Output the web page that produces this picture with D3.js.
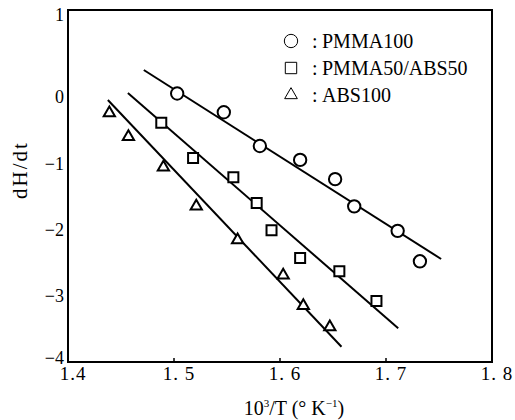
<!DOCTYPE html>
<html>
<head>
<meta charset="utf-8">
<script src="https://cdn.jsdelivr.net/npm/d3@7"></script>
<style>
  body { margin: 0; background: #fff; }
  text { font-family: "Liberation Serif", "DejaVu Serif", serif; fill: #000; }
</style>
</head>
<body>
<script>
// values
const pmmaX = [1.503, 1.547, 1.581, 1.619, 1.652, 1.670, 1.711, 1.732];
const pmmaY = [0.04, -0.23, -0.74, -0.95, -1.24, -1.65, -2.02, -2.48];
const blendX = [1.488, 1.518, 1.556, 1.578, 1.592, 1.619, 1.656, 1.691];
const blendY = [-0.39, -0.92, -1.21, -1.60, -2.01, -2.43, -2.63, -3.08];
const absX = [1.439, 1.457, 1.490, 1.521, 1.560, 1.603, 1.622, 1.647];
const absY = [-0.24, -0.60, -1.06, -1.65, -2.16, -2.69, -3.15, -3.47];

// fitted straight lines (end points)
const pmmaFitX = [1.4715, 1.752], pmmaFitY = [0.31, -2.445];
const blendFitX = [1.4565, 1.7115], blendFitY = [0.045, -3.49];
const absFitX = [1.4376, 1.658], absFitY = [-0.045, -3.77];

const xTicks = [1.4, 1.5, 1.6, 1.7, 1.8];
const xTickLabels = ["1.4", "1. 5", "1. 6", "1. 7", "1. 8"];
const yTicks = [1, 0, -1, -2, -3, -4];
const yTickLabels = ["1", "0", "\u22121", "\u22122", "\u22123", "\u22124"];
const legendNames = ["PMMA100", "PMMA50/ABS50", "ABS100"];

const svg = d3.select("body").append("svg")
  .attr("width", 515)
  .attr("height", 420);

const x = d3.scaleLinear().domain([1.4, 1.8]).range([68, 492]);
// the scanned axis is stretched above 0
const y = d3.scaleLinear().domain([-4, 0, 1]).range([362, 97, 10]);

// frame
svg.append("rect")
  .attr("x", x(1.4)).attr("y", y(1))
  .attr("width", x(1.8) - x(1.4)).attr("height", y(-4) - y(1))
  .attr("fill", "none").attr("stroke", "#000").attr("stroke-width", 2);

// inward ticks on the bottom
svg.selectAll(".xt").data(xTicks.slice(1, -1)).enter().append("line")
  .attr("x1", d => x(d)).attr("x2", d => x(d))
  .attr("y1", y(-4)).attr("y2", y(-4) - 4)
  .attr("stroke", "#000").attr("stroke-width", 1.5);

svg.selectAll(".xl").data(xTicks).enter().append("text")
  .attr("x", d => x(d) + 5)
  .attr("y", 380)
  .attr("text-anchor", "middle")
  .attr("font-size", "19px")
  .attr("letter-spacing", "1px")
  .text((d, i) => xTickLabels[i]);

svg.selectAll(".yl").data(yTicks).enter().append("text")
  .attr("x", 64)
  .attr("y", d => y(d) + (d === 1 ? 5 : d === -4 ? -4 : 0))
  .attr("dy", "0.35em")
  .attr("text-anchor", "end")
  .attr("font-size", "18px")
  .text((d, i) => yTickLabels[i]);

// axis titles
const xt = svg.append("text")
  .attr("x", 294).attr("y", 415)
  .attr("text-anchor", "middle")
  .attr("font-size", "20px");
xt.append("tspan").text("10");
xt.append("tspan").attr("dy", "-8").attr("font-size", "11px").text("3");
xt.append("tspan").attr("dy", "8").text("/T (\u00b0  K");
xt.append("tspan").attr("dy", "-8").attr("font-size", "11px").text("\u22121");
xt.append("tspan").attr("dy", "8").text(")");

svg.append("text")
  .attr("transform", "translate(27,170) rotate(-90)")
  .attr("text-anchor", "middle")
  .attr("font-size", "21px")
  .attr("letter-spacing", "2px")
  .text("dH/dt");

// fit lines
const fits = [[pmmaFitX, pmmaFitY], [blendFitX, blendFitY], [absFitX, absFitY]];
fits.forEach(f => {
  svg.append("line")
    .attr("x1", x(f[0][0])).attr("y1", y(f[1][0]))
    .attr("x2", x(f[0][1])).attr("y2", y(f[1][1]))
    .attr("stroke", "#000").attr("stroke-width", 2);
});

// markers
const circ = d3.symbol().type(d3.symbolCircle).size(120);
const sq = d3.symbol().type(d3.symbolSquare).size(100);
const tri = d3.symbol().type(d3.symbolTriangle).size(55);

const series = [[pmmaX, pmmaY, circ], [blendX, blendY, sq], [absX, absY, tri]];
series.forEach(s => {
  svg.append("g").selectAll("path").data(s[0]).enter().append("path")
    .attr("d", s[2])
    .attr("transform", (d, i) => "translate(" + x(d) + "," + y(s[1][i]) + ")")
    .attr("fill", "#fff").attr("stroke", "#000").attr("stroke-width", 2);
});

// legend
const legY = [41, 68, 95];
const legSym = [
  d3.symbol().type(d3.symbolCircle).size(140),
  d3.symbol().type(d3.symbolSquare).size(130),
  d3.symbol().type(d3.symbolTriangle).size(70)
];
legendNames.forEach((n, i) => {
  svg.append("path")
    .attr("d", legSym[i])
    .attr("transform", "translate(291," + legY[i] + ")")
    .attr("fill", "none").attr("stroke", "#000").attr("stroke-width", 1);
  svg.append("text")
    .attr("x", 312).attr("y", legY[i]).attr("dy", "0.35em")
    .attr("font-size", "20px")
    .text(":");
  svg.append("text")
    .attr("x", 322).attr("y", legY[i]).attr("dy", "0.35em")
    .attr("font-size", "20px")
    .text(n);
});
</script>
</body>
</html>
